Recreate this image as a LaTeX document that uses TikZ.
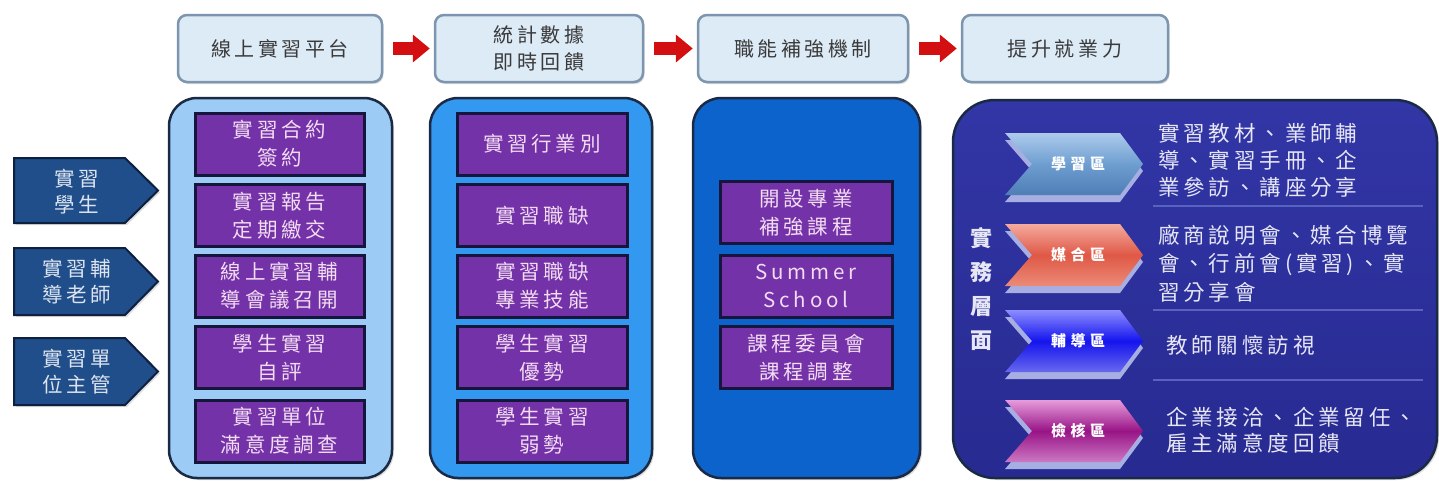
\documentclass[tikz,border=0pt]{standalone}
\usepackage{fontspec}
\setmainfont{Noto Sans CJK TC}
\newfontfamily\cjksp[LetterSpace=18]{Noto Sans CJK TC}
\newfontfamily\cjkwide[LetterSpace=30]{Noto Sans CJK TC}
\usetikzlibrary{arrows.meta,shadows}
\definecolor{hdrfill}{HTML}{DDEBF7}
\definecolor{hdrline}{HTML}{7D95AE}
\definecolor{hdrtext}{HTML}{3A3A3A}
\definecolor{pone}{HTML}{9CCBF5}
\definecolor{ptwo}{HTML}{3399F0}
\definecolor{pthree}{HTML}{0D63CC}
\definecolor{pfourtop}{HTML}{3236A6}
\definecolor{pfourbot}{HTML}{272A90}
\definecolor{panelline}{HTML}{1B2A44}
\definecolor{purp}{HTML}{7432A8}
\definecolor{purpline}{HTML}{16163C}
\definecolor{purptext}{HTML}{F2DCF2}
\definecolor{pentfill}{HTML}{1F4E8A}
\definecolor{pentline}{HTML}{0E2040}
\definecolor{penttext}{HTML}{DDE4F0}
\definecolor{arrowred}{HTML}{D40F12}
\definecolor{rtext}{HTML}{E6E6F5}
\definecolor{sepcol}{HTML}{5A62C0}
\definecolor{lbt}{HTML}{ADCBEC}\definecolor{lbm}{HTML}{6E9ED0}\definecolor{lbb}{HTML}{4E7EB4}
\definecolor{rdt}{HTML}{F4AA9E}\definecolor{rdm}{HTML}{E05846}\definecolor{rdb}{HTML}{EC8A78}
\definecolor{blt}{HTML}{8C8CFF}\definecolor{blm}{HTML}{1414EE}\definecolor{blb}{HTML}{6868EE}
\definecolor{pkt}{HTML}{E69CDC}\definecolor{pkm}{HTML}{981486}\definecolor{pkb}{HTML}{CC78C4}
\definecolor{chshadow}{HTML}{A6AEE2}
\begin{document}
\begin{tikzpicture}[x=1pt,y=-1pt,
  hdr/.style={draw=hdrline, line width=2.5pt, fill=hdrfill, rounded corners=9pt,
    minimum height=67pt, inner sep=0pt, align=center, text=hdrtext,
    font=\cjksp\fontsize{20}{27}\selectfont,
    drop shadow={opacity=0.25, shadow xshift=1.5pt, shadow yshift=-2pt}},
  panel/.style={draw=panelline, line width=2.5pt, rounded corners=28pt, inner sep=0pt,
    drop shadow={opacity=0.25, shadow xshift=2pt, shadow yshift=-2pt}},
  pbox/.style={draw=purpline, line width=3pt, fill=purp, inner sep=0pt,
    minimum height=62pt, align=center, text=purptext,
    font=\cjksp\fontsize{20.5}{28}\selectfont},
  pent/.style={draw=pentline, line width=2pt, fill=pentfill,
    drop shadow={opacity=0.25, shadow xshift=2pt, shadow yshift=-2pt}},
  penttxt/.style={text=penttext, align=center, inner sep=0pt,
    font=\cjksp\fontsize{20.5}{26}\selectfont},
  redarrow/.style={draw=arrowred, line width=13pt, shorten <=10pt, shorten >=4pt,
    -{Triangle[length=17pt,width=27pt]}},
  chevtxt/.style={text=white, inner sep=0pt, font=\cjkwide\fontsize{15}{18}\selectfont\bfseries},
  rtxt/.style={text=rtext, anchor=west, align=left, inner sep=0pt,
    font=\cjksp\fontsize{21.5}{27}\selectfont},
  sepline/.style={draw=sepcol, line width=1.5pt}
]
\fill[white] (0,0) rectangle (1439,480);
\useasboundingbox (0,0) rectangle (1439,480);

% header boxes
\node[hdr, minimum width=204pt] (h1) at (280,48.5) {線上實習平台};
\node[hdr, minimum width=208pt] (h2) at (539,48.5) {統計數據\\即時回饋};
\node[hdr, minimum width=210pt] (h3) at (803,48.5) {職能補強機制};
\node[hdr, minimum width=206pt] (h4) at (1065,48.5) {提升就業力};
\draw[redarrow] (h1.east) -- (h2.west);
\draw[redarrow] (h2.east) -- (h3.west);
\draw[redarrow] (h3.east) -- (h4.west);

% panels
\node[panel, fill=pone, minimum width=223pt, minimum height=380pt] (p1) at (280.5,288) {};
\node[panel, fill=ptwo, minimum width=222pt, minimum height=380pt] (p2) at (541,288) {};
\node[panel, fill=pthree, minimum width=227pt, minimum height=380pt] (p3) at (806.5,288) {};
\node[panel, top color=pfourtop, bottom color=pfourbot, rounded corners=42pt,
  minimum width=484pt, minimum height=378pt] (p4) at (1195,289) {};

% panel 1 boxes
\node[pbox, minimum width=169pt] (a1) at (279.5,144) {實習合約\\簽約};
\node[pbox, minimum width=169pt] (a2) at (279.5,215.5) {實習報告\\定期繳交};
\node[pbox, minimum width=169pt] (a3) at (279.5,286) {線上實習輔\\導會議召開};
\node[pbox, minimum width=169pt] (a4) at (279.5,357.5) {學生實習\\自評};
\node[pbox, minimum width=169pt] (a5) at (279.5,431) {實習單位\\滿意度調查};

% panel 2 boxes
\node[pbox, minimum width=170pt] (b1) at (542,144) {實習行業別};
\node[pbox, minimum width=170pt] (b2) at (542,215.5) {實習職缺};
\node[pbox, minimum width=170pt] (b3) at (542,286) {實習職缺\\專業技能};
\node[pbox, minimum width=170pt] (b4) at (542,357.5) {學生實習\\優勢};
\node[pbox, minimum width=170pt] (b5) at (542,431) {學生實習\\弱勢};

% panel 3 boxes
\node[pbox, minimum width=172pt] (c1) at (806,212.5) {開設專業\\補強課程};
\node[pbox, minimum width=172pt] (c2) at (806,286) {Summer\\School};
\node[pbox, minimum width=172pt] (c3) at (806,357.5) {課程委員會\\課程調整};

% left pentagons
\draw[pent] (14,158) -- (125,158) -- (158,190.5) -- (125,223) -- (14,223) -- cycle;
\node[penttxt] (s1) at (77,192) {實習\\學生};
\draw[pent] (14,248) -- (125,248) -- (158,281.5) -- (125,315) -- (14,315) -- cycle;
\node[penttxt] (s2) at (77,282) {實習輔\\導老師};
\draw[pent] (14,338) -- (125,338) -- (158,371.5) -- (125,405) -- (14,405) -- cycle;
\node[penttxt] (s3) at (77,372) {實習單\\位主管};

% vertical label
\node[text=rtext, align=center, inner sep=0pt,
  font=\fontsize{22}{34}\selectfont\bfseries] (vlab) at (981,289) {實\\務\\層\\面};

% chevrons
\foreach \yc/\ct/\cm/\cb/\lab [count=\i] in
  {164/lbt/lbm/lbb/學習區, 255/rdt/rdm/rdb/媒合區, 341/blt/blm/blb/輔導區, 431/pkt/pkm/pkb/檢核區}{
  \fill[chshadow] (1005,\yc-24) -- (1120,\yc-24) -- (1143,\yc+7) -- (1120,\yc+38)
    -- (1005,\yc+38) -- (1032,\yc+7) -- cycle;
  \shade[top color=\ct, bottom color=\cb, middle color=\cm]
    (1005,\yc-31) -- (1120,\yc-31) -- (1143,\yc) -- (1120,\yc+31)
    -- (1005,\yc+31) -- (1032,\yc) -- cycle;
  \node[chevtxt] (z\i) at (1078,\yc) {\lab};
}

% separators
\draw[sepline] (1153,206) -- (1423,206);
\draw[sepline] (1153,310) -- (1423,310);
\draw[sepline] (1153,380) -- (1423,380);

% right texts
\node[rtxt] (t1) at (1158,160) {實習教材、業師輔\\導、實習手冊、企\\業參訪、講座分享};
\node[rtxt, font=\cjksp\fontsize{21.5}{28.5}\selectfont] (t2) at (1158,263.5) {廠商說明會、媒合博覽\\會、行前會(實習)、實\\習分享會};
\node[rtxt] (t3) at (1166,345) {教師關懷訪視};
\node[rtxt, font=\cjksp\fontsize{21.5}{26}\selectfont] (t4) at (1166,430.5) {企業接洽、企業留任、\\雇主滿意度回饋};
\end{tikzpicture}
\end{document}
